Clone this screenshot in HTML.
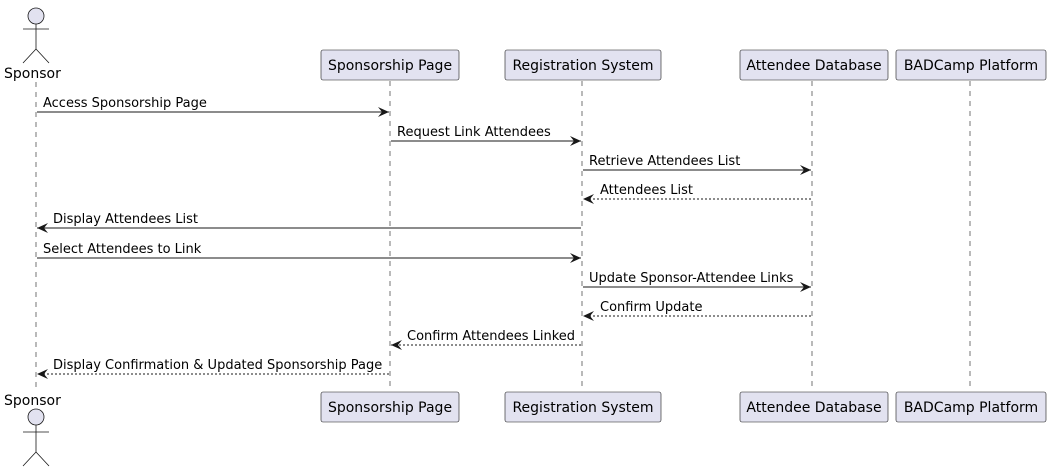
<!DOCTYPE html>
<html><head><meta charset="utf-8"><style>
html,body{margin:0;padding:0;background:#fff;}
svg{display:block;font-family:"DejaVu Sans","Liberation Sans",sans-serif;}
</style></head><body>
<svg width="1051" height="472" viewBox="0 0 1051 472" xmlns="http://www.w3.org/2000/svg">
<defs>
<marker id="a" markerWidth="12" markerHeight="10" refX="11" refY="5" orient="auto" markerUnits="userSpaceOnUse">
<path d="M0,0 L11,5 L0,10 L4,5 Z" fill="#181818"/>
</marker>
</defs>
<g stroke="#181818" stroke-width="0.6" stroke-dasharray="5,5" fill="none">
<line x1="36" y1="82" x2="36" y2="390"/>
<line x1="390" y1="81" x2="390" y2="391"/>
<line x1="582" y1="81" x2="582" y2="391"/>
<line x1="812" y1="81" x2="812" y2="391"/>
<line x1="970" y1="81" x2="970" y2="391"/>
</g>
<!-- actors -->
<g fill="#E2E2F0" stroke="#181818" stroke-width="0.8">
<circle cx="36" cy="16" r="8"/>
<circle cx="36" cy="417" r="8"/>
</g>
<g stroke="#181818" stroke-width="0.8" fill="none">
<path d="M36,24 V49 M23,29 H49 M36,49 L23,63 M36,49 L49,63"/>
<path d="M36,425 V452 M23,432 H49 M36,452 L23,466 M36,452 L49,466"/>
</g>
<g font-size="14" fill="#000">
<text x="4" y="78">Sponsor</text>
<text x="4" y="405">Sponsor</text>
</g>
<!-- participant boxes -->
<g fill="#E2E2F0" stroke="#181818" stroke-width="0.6">
<rect x="321" y="50" width="138" height="30" rx="2"/>
<rect x="505" y="50" width="156" height="30" rx="2"/>
<rect x="740" y="50" width="148" height="30" rx="2"/>
<rect x="896" y="50" width="150" height="30" rx="2"/>
<rect x="321" y="392" width="138" height="30" rx="2"/>
<rect x="505" y="392" width="156" height="30" rx="2"/>
<rect x="740" y="392" width="148" height="30" rx="2"/>
<rect x="896" y="392" width="150" height="30" rx="2"/>
</g>
<g font-size="14" fill="#000" text-anchor="middle">
<text x="390" y="70">Sponsorship Page</text>
<text x="583" y="70">Registration System</text>
<text x="814" y="70">Attendee Database</text>
<text x="971" y="70">BADCamp Platform</text>
<text x="390" y="412">Sponsorship Page</text>
<text x="583" y="412">Registration System</text>
<text x="814" y="412">Attendee Database</text>
<text x="971" y="412">BADCamp Platform</text>
</g>
<!-- messages -->
<g stroke="#181818" stroke-width="1" marker-end="url(#a)">
<line x1="37" y1="112" x2="389" y2="112"/>
<line x1="391" y1="141" x2="581" y2="141"/>
<line x1="583" y1="170" x2="811" y2="170"/>
<line x1="811" y1="199" x2="583" y2="199" stroke-dasharray="2,2"/>
<line x1="581" y1="228" x2="37" y2="228"/>
<line x1="37" y1="258" x2="581" y2="258"/>
<line x1="583" y1="287" x2="811" y2="287"/>
<line x1="811" y1="316" x2="583" y2="316" stroke-dasharray="2,2"/>
<line x1="581" y1="345" x2="391" y2="345" stroke-dasharray="2,2"/>
<line x1="389" y1="374" x2="37" y2="374" stroke-dasharray="2,2"/>
</g>
<g font-size="13" fill="#000">
<text x="43" y="107">Access Sponsorship Page</text>
<text x="397" y="136">Request Link Attendees</text>
<text x="589" y="165">Retrieve Attendees List</text>
<text x="600" y="194">Attendees List</text>
<text x="53" y="223">Display Attendees List</text>
<text x="43" y="253">Select Attendees to Link</text>
<text x="589" y="282">Update Sponsor-Attendee Links</text>
<text x="600" y="311">Confirm Update</text>
<text x="407" y="340">Confirm Attendees Linked</text>
<text x="53" y="369">Display Confirmation &amp; Updated Sponsorship Page</text>
</g>
</svg>
</body></html>
